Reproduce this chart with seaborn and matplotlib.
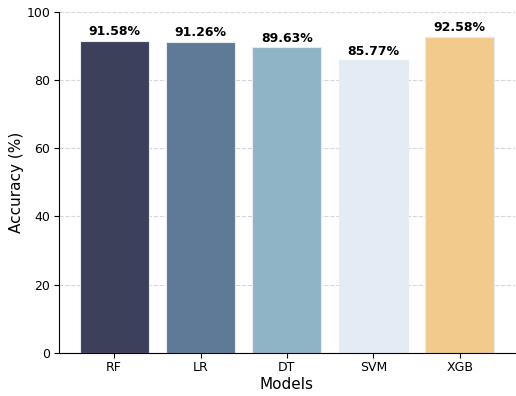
import pandas as pd
import matplotlib.pyplot as plt
import seaborn as sns

models = ["RF", "LR", "DT", "SVM", "XGB"]
accuracy = [91.58, 91.26, 89.63, 85.77, 92.58]
colors = ["#3d405b", "#5f7a96", "#8fb4c5", "#e3ecf5", "#f2ca8c"]

df = pd.DataFrame({"Models": models, "Accuracy": accuracy})

fig, ax = plt.subplots(figsize=(5.16, 3.96), dpi=100)
fig.subplots_adjust(left=0.114, right=0.998, top=0.97, bottom=0.109)

sns.barplot(data=df, x="Models", y="Accuracy", hue="Models", palette=colors,
            saturation=1, legend=False, width=0.8, edgecolor="#e8ecef",
            linewidth=0.8, ax=ax)

# labels on top of bars
for i, v in enumerate(accuracy):
    ax.text(i, v + 0.8, f"{v:.2f}%", ha="center", va="bottom", fontsize=9, fontweight="bold")

ax.set_ylim(0, 100)
ax.set_xlim(-0.64, 4.64)
ax.set_xlabel("Models", fontsize=11, labelpad=2)
ax.set_ylabel("Accuracy (%)", fontsize=11, labelpad=2)
ax.tick_params(labelsize=9, pad=2.5)
ax.grid(axis="y", linestyle="--", alpha=0.6, color="#bbbbbb")
ax.set_axisbelow(True)
ax.spines["top"].set_visible(False)
ax.spines["right"].set_visible(False)

plt.savefig("out.png", dpi=100)
